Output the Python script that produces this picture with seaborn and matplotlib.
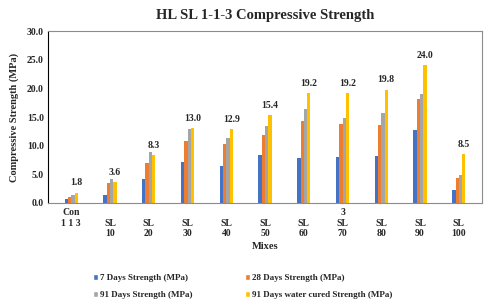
import pandas as pd
import seaborn as sns
import matplotlib.pyplot as plt
from matplotlib.patches import Patch

mixes = ["Con 1 1 3", "SL 10", "SL 20", "SL 30", "SL 40", "SL 50",
         "SL 60", "SL 70", "SL 80", "SL 90", "SL 100"]
tick_labels = ["Con\n1 1 3\n", "\nSL\n10", "\nSL\n20", "\nSL\n30", "\nSL\n40", "\nSL\n50",
               "\nSL\n60", "3\nSL\n70", "\nSL\n80", "\nSL\n90", "\nSL\n100"]

days7 = [0.75, 1.45, 4.2, 7.2, 6.45, 8.35, 7.9, 8.0, 8.2, 12.7, 2.2]
days28 = [1.05, 3.5, 6.9, 10.9, 10.3, 11.9, 14.3, 13.75, 13.6, 18.1, 4.4]
days91 = [1.4, 4.2, 8.9, 12.9, 11.3, 13.35, 16.4, 14.85, 15.7, 19.0, 4.9]
days91_water = [1.8, 3.6, 8.3, 13.0, 12.9, 15.4, 19.2, 19.2, 19.8, 24.0, 8.5]

series = ["7 Days Strength (MPa)", "28 Days Strength (MPa)",
          "91 Days Strength (MPa)", "91 Days water cured Strength (MPa)"]
palette = {series[0]: "#4472C4", series[1]: "#ED7D31",
           series[2]: "#A5A5A5", series[3]: "#FFC000"}

rows = []
for vals, name in zip([days7, days28, days91, days91_water], series):
    for m, v in zip(mixes, vals):
        rows.append({"Mix": m, "Strength": v, "Series": name})
df = pd.DataFrame(rows)

sns.set_style("white")
plt.rcParams["font.family"] = ["Liberation Serif", "DejaVu Serif"]
plt.rcParams["font.weight"] = "bold"

fig = plt.figure(figsize=(4.85, 3.02), dpi=100)
ax = fig.add_axes([0.099, 0.328, 0.895, 0.569])

sns.barplot(data=df, x="Mix", y="Strength", hue="Series", palette=palette,
            width=0.34, ax=ax, legend=False, saturation=1, linewidth=0)

# value labels above the water cured bars
water_bars = ax.containers[3]
for bar, v in zip(water_bars, days91_water):
    ax.text(bar.get_x() + bar.get_width() / 2, v + 0.9, f"{v:.1f}",
            ha="center", va="bottom", fontsize=7, fontweight="bold")

ax.set_ylim(0, 30)
ax.set_yticks(range(0, 31, 5))
ax.set_yticklabels([f"{t:.1f}" for t in range(0, 31, 5)], fontsize=7, fontweight="bold")
ax.set_xticks(range(len(mixes)))
ax.set_xticklabels(tick_labels, fontsize=7, fontweight="bold", linespacing=1.2)
ax.set_xlim(-0.6, len(mixes) - 0.4)
ax.tick_params(axis="x", length=0, pad=4)
ax.tick_params(axis="y", length=0, pad=3)

ax.set_xlabel("Mixes", fontsize=7.5, fontweight="bold", labelpad=3)
ax.set_ylabel("Compressive Strength (MPa)", fontsize=7.5, fontweight="bold", labelpad=6)
ax.set_title("HL SL 1-1-3 Compressive Strength", fontsize=10.5, fontweight="bold", pad=9)

for side in ["top", "right", "bottom"]:
    ax.spines[side].set_color("#8c8c8c")
    ax.spines[side].set_linewidth(0.8)
ax.spines["left"].set_color("#000000")
ax.spines["left"].set_linewidth(0.8)

# legend filled row by row: 7 / 28 on top, 91 / 91 water below
order = [series[0], series[2], series[1], series[3]]
handles = [Patch(facecolor=palette[s], label=s) for s in order]
fig.legend(handles=handles, loc="lower left", bbox_to_anchor=(0.175, -0.018), ncol=2,
           frameon=False, handlelength=0.6, handleheight=0.6,
           handletextpad=0.2, columnspacing=5.8, labelspacing=1.0,
           prop={"weight": "bold", "size": 6.5})

fig.savefig("out.png", dpi=100)
